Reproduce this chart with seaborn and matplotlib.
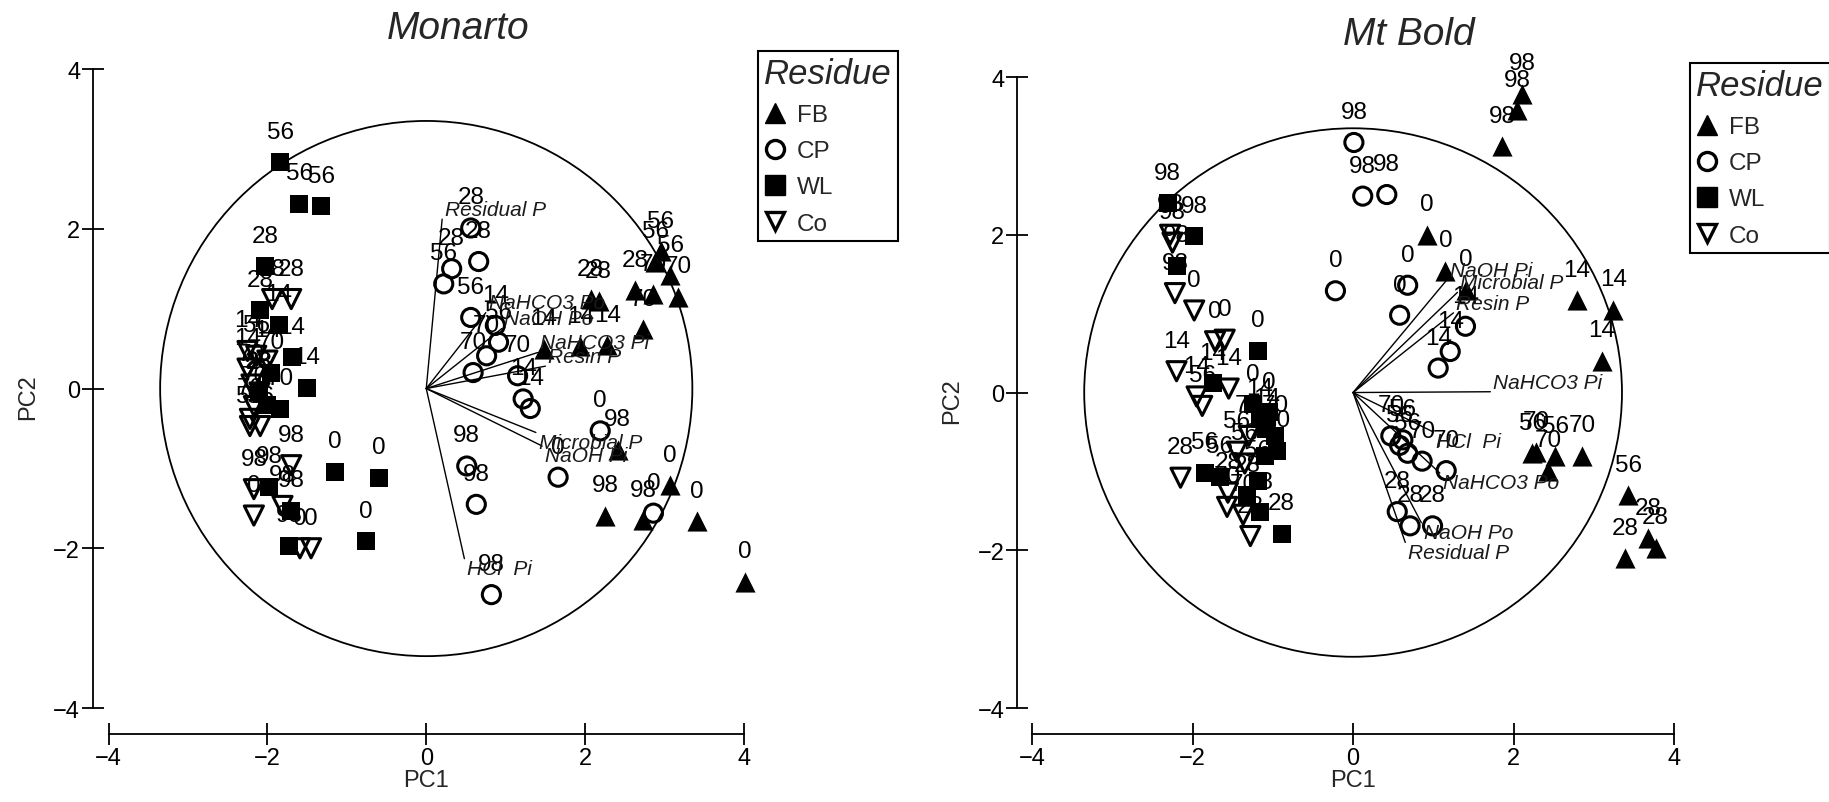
import matplotlib
matplotlib.use("Agg")
import pandas as pd
import matplotlib.pyplot as plt
import seaborn as sns
from matplotlib.lines import Line2D
from matplotlib.patches import Circle


RESIDUES = ["FB", "CP", "WL", "Co"]

# Monarto scores (PC1, PC2, incubation day)
MON_FB_PC1 = [2.07, 2.17, 2.63, 2.86, 3.17, 2.95, 2.88, 3.07, 2.73, 1.48, 1.94, 2.28, 2.41, 2.25, 2.73, 3.07, 3.41, 4.01]
MON_FB_PC2 = [1.12, 1.09, 1.23, 1.18, 1.15, 1.72, 1.59, 1.42, 0.74, 0.50, 0.53, 0.54, -0.77, -1.59, -1.65, -1.21, -1.66, -2.42]
MON_FB_DAY = [28, 28, 28, 70, 70, 56, 56, 56, 70, 14, 14, 14, 98, 98, 98, 0, 0, 0]

MON_CP_PC1 = [0.56, 0.66, 0.32, 0.22, 0.56, 0.87, 0.91, 0.76, 0.59, 1.15, 1.22, 1.31, 2.19, 2.86, 1.66, 0.51, 0.63, 0.82]
MON_CP_PC2 = [2.01, 1.59, 1.50, 1.31, 0.89, 0.79, 0.58, 0.41, 0.20, 0.16, -0.13, -0.25, -0.53, -1.56, -1.11, -0.97, -1.45, -2.58]
MON_CP_DAY = [28, 28, 28, 56, 56, 14, 56, 70, 70, 70, 14, 14, 0, 0, 0, 98, 98, 98]

MON_WL_PC1 = [-1.84, -1.60, -1.32, -2.03, -2.09, -1.86, -1.69, -1.50, -1.84, -2.11, -1.95, -2.00, -1.15, -0.60, -0.76, -1.98, -1.70, -1.73]
MON_WL_PC2 = [2.83, 2.31, 2.28, 1.53, 0.98, 0.80, 0.39, 0.01, -0.25, -0.04, 0.20, -0.20, -1.04, -1.12, -1.91, -1.23, -1.53, -1.97]
MON_WL_DAY = [56, 56, 56, 28, 28, 14, 14, 14, 70, 28, 70, 70, 0, 0, 0, 98, 98, 98]

MON_CO_PC1 = [-1.94, -1.70, -2.25, -2.14, -2.25, -2.17, -2.22, -2.22, -2.09, -1.70, -2.17, -1.81, -1.59, -1.45, -2.17, -2.20, -2.10, -2.00]
MON_CO_PC2 = [1.12, 1.12, 0.47, 0.41, 0.25, -0.22, -0.38, -0.47, -0.47, -0.96, -1.59, -1.47, -2.00, -2.00, -1.26, 0.05, -0.05, 0.35]
MON_CO_DAY = [28, 28, 14, 56, 14, 70, 70, 56, 56, 98, 0, 98, 0, 0, 98, 70, 28, 14]

# Mt Bold scores
BOL_FB_PC1 = [2.11, 2.04, 1.86, 0.92, 1.15, 1.41, 2.79, 3.24, 3.10, 2.23, 2.52, 3.43, 2.85, 2.43, 2.28, 3.68, 3.77, 3.39]
BOL_FB_PC2 = [3.79, 3.58, 3.12, 2.00, 1.54, 1.30, 1.17, 1.05, 0.40, -0.77, -0.81, -1.30, -0.80, -0.99, -0.75, -1.85, -1.97, -2.10]
BOL_FB_DAY = [98, 98, 98, 0, 0, 0, 14, 14, 14, 56, 56, 56, 70, 70, 70, 28, 28, 28]

BOL_CP_PC1 = [0.01, 0.12, 0.42, -0.22, 0.68, 0.58, 1.40, 1.21, 1.06, 0.47, 0.86, 1.16, 0.58, 0.68, 0.62, 0.55, 0.71, 0.99]
BOL_CP_PC2 = [3.17, 2.49, 2.51, 1.29, 1.36, 0.98, 0.84, 0.52, 0.31, -0.55, -0.87, -0.99, -0.67, -0.77, -0.60, -1.51, -1.69, -1.69]
BOL_CP_DAY = [98, 98, 98, 0, 0, 0, 14, 14, 14, 70, 70, 70, 56, 56, 56, 28, 28, 28]

BOL_WL_PC1 = [-2.31, -1.98, -2.20, -1.19, -1.05, -1.25, -1.75, -1.16, -1.08, -0.97, -0.95, -1.10, -1.85, -1.66, -1.19, -1.32, -1.16, -0.89]
BOL_WL_PC2 = [2.40, 1.98, 1.61, 0.53, -0.25, -0.15, 0.12, -0.33, -0.46, -0.55, -0.74, -0.80, -1.02, -1.07, -1.12, -1.30, -1.52, -1.79]
BOL_WL_DAY = [98, 98, 98, 0, 0, 0, 14, 14, 14, 70, 70, 70, 56, 56, 56, 28, 28, 28]

BOL_CO_PC1 = [-2.28, -2.25, -2.22, -1.98, -1.60, -1.72, -2.20, -1.95, -1.55, -1.88, -1.45, -1.35, -1.57, -1.37, -1.30, -2.15, -1.56, -1.28]
BOL_CO_PC2 = [2.00, 1.90, 1.26, 1.04, 0.67, 0.65, 0.27, -0.05, 0.05, -0.17, -0.75, -0.90, -1.45, -1.55, -0.55, -1.08, -1.27, -1.82]
BOL_CO_DAY = [98, 98, 98, 0, 0, 0, 14, 14, 14, 56, 56, 56, 70, 70, 70, 28, 28, 28]

# variable loadings (scaled to the score plot)
MON_VARS = ["Residual P", "NaHCO3 Po", "NaOH Po", "NaHCO3 Pi", "Resin P", "Microbial P", "NaOH Pi", "HCl  Pi"]
MON_LOAD_PC1 = [0.20, 0.75, 0.95, 1.40, 1.50, 1.38, 1.46, 0.48]
MON_LOAD_PC2 = [2.12, 0.95, 0.75, 0.45, 0.28, -0.55, -0.72, -2.13]

BOL_VARS = ["NaOH Pi", "Microbial P", "Resin P", "NaHCO3 Pi", "HCl  Pi", "NaHCO3 Po", "NaOH Po", "Residual P"]
BOL_LOAD_PC1 = [1.17, 1.30, 1.25, 1.71, 1.00, 1.08, 0.85, 0.65]
BOL_LOAD_PC2 = [1.43, 1.27, 1.01, 0.01, -0.50, -1.02, -1.65, -1.90]

CIRCLE_R = 3.35

MARKERS = {"FB": "^", "CP": "o", "WL": "s", "Co": "v"}
FILLED = {"FB": True, "CP": False, "WL": True, "Co": False}
SIZES = {"FB": 210, "CP": 170, "WL": 170, "Co": 190}

FONT = "Liberation Sans"


def build_scores():
    parts = []
    site_data = {
        "Monarto": [
            ("FB", MON_FB_PC1, MON_FB_PC2, MON_FB_DAY),
            ("CP", MON_CP_PC1, MON_CP_PC2, MON_CP_DAY),
            ("WL", MON_WL_PC1, MON_WL_PC2, MON_WL_DAY),
            ("Co", MON_CO_PC1, MON_CO_PC2, MON_CO_DAY),
        ],
        "Mt Bold": [
            ("FB", BOL_FB_PC1, BOL_FB_PC2, BOL_FB_DAY),
            ("CP", BOL_CP_PC1, BOL_CP_PC2, BOL_CP_DAY),
            ("WL", BOL_WL_PC1, BOL_WL_PC2, BOL_WL_DAY),
            ("Co", BOL_CO_PC1, BOL_CO_PC2, BOL_CO_DAY),
        ],
    }
    for site, groups in site_data.items():
        for res, pc1, pc2, day in groups:
            parts.append(pd.DataFrame({"site": site, "residue": res, "PC1": pc1, "PC2": pc2, "day": day}))
    return pd.concat(parts, ignore_index=True)


def plot_site(ax, df, var_names, load_x, load_y):
    ax.add_patch(Circle((0, 0), CIRCLE_R, fill=False, edgecolor="black", linewidth=1.3, zorder=1))

    for name, lx, ly in zip(var_names, load_x, load_y):
        ax.plot([0, lx], [0, ly], color="black", linewidth=1.0, zorder=2)
        dy = 7 if ly >= 0 else -7
        ax.annotate(name, (lx, ly), xytext=(2, dy), textcoords="offset points",
                    ha="left", va="center", fontsize=15, style="italic",
                    color="#1a1a1a", zorder=5)

    for res in RESIDUES:
        sub = df[df["residue"] == res]
        if FILLED[res]:
            sns.scatterplot(data=sub, x="PC1", y="PC2", marker=MARKERS[res], s=SIZES[res],
                            color="black", linewidth=0, ax=ax, legend=False, zorder=3)
        else:
            sns.scatterplot(data=sub, x="PC1", y="PC2", marker=MARKERS[res], s=SIZES[res],
                            facecolors="none", edgecolor="black", linewidth=2.2,
                            ax=ax, legend=False, zorder=3)

    for _, row in df.iterrows():
        ax.annotate(str(row["day"]), (row["PC1"], row["PC2"]), xytext=(0, 22),
                    textcoords="offset points", ha="center", va="center",
                    fontsize=17.5, color="black", zorder=4)


def style_axes(ax, y_spine_x, x_spine_y):
    ax.set_xlim(-4.3, 4.3)
    ax.set_ylim(-4.4, 4.2)
    ax.spines["top"].set_visible(False)
    ax.spines["right"].set_visible(False)
    ax.spines["left"].set_position(("data", y_spine_x))
    ax.spines["bottom"].set_position(("data", x_spine_y))
    ax.spines["left"].set_bounds(-4, 4)
    ax.spines["bottom"].set_bounds(-4, 4)
    for s in ["left", "bottom"]:
        ax.spines[s].set_linewidth(1.3)
        ax.spines[s].set_color("black")
    ax.set_xticks([-4, -2, 0, 2, 4])
    ax.set_yticks([-4, -2, 0, 2, 4])
    ax.tick_params(bottom=True, left=True, direction="inout", length=16, width=1.3,
                   labelsize=17, pad=1, colors="black")
    ax.set_xlabel("PC1", fontsize=17, labelpad=0)
    ax.set_ylabel("PC2", fontsize=17, labelpad=10)
    ax.grid(False)


def add_legend(fig, anchor):
    handles = []
    for res in RESIDUES:
        if FILLED[res]:
            h = Line2D([], [], marker=MARKERS[res], linestyle="none", color="black",
                       markersize=14)
        else:
            h = Line2D([], [], marker=MARKERS[res], linestyle="none", markerfacecolor="none",
                       markeredgecolor="black", markeredgewidth=2.4, markersize=13)
        handles.append(h)
    leg = fig.legend(handles, RESIDUES, loc="upper left", bbox_to_anchor=anchor,
                     title="Residue", fontsize=17.5, title_fontsize=25, frameon=True,
                     fancybox=False, framealpha=1, edgecolor="black", handlelength=0.9,
                     handletextpad=0.45, labelspacing=0.58, borderpad=0.25,
                     alignment="left", borderaxespad=0)
    leg.get_title().set_style("italic")
    leg.get_frame().set_linewidth(1.5)


def run_pca_biplot():
    sns.set_style("white")
    plt.rcParams["font.family"] = [FONT, "DejaVu Sans"]

    df = build_scores()

    fig = plt.figure(figsize=(18.29, 8.03), dpi=100)
    ax1 = fig.add_axes([0.0463, 0.0772, 0.3735, 0.8555])
    ax2 = fig.add_axes([0.5511, 0.0777, 0.3774, 0.8448])

    plot_site(ax1, df[df["site"] == "Monarto"], MON_VARS, MON_LOAD_PC1, MON_LOAD_PC2)
    plot_site(ax2, df[df["site"] == "Mt Bold"], BOL_VARS, BOL_LOAD_PC1, BOL_LOAD_PC2)

    style_axes(ax1, -4.2, -4.33)
    style_axes(ax2, -4.19, -4.33)

    fig.text(0.2504, 0.964, "Monarto", ha="center", va="center", fontsize=28, style="italic")
    fig.text(0.7704, 0.956, "Mt Bold", ha="center", va="center", fontsize=28, style="italic")

    add_legend(fig, (758 / 1829, 1 - 52 / 803))
    add_legend(fig, (1690 / 1829, 1 - 64 / 803))

    fig.savefig("out.png", dpi=100)
    plt.close(fig)


if __name__ == "__main__":
    run_pca_biplot()
